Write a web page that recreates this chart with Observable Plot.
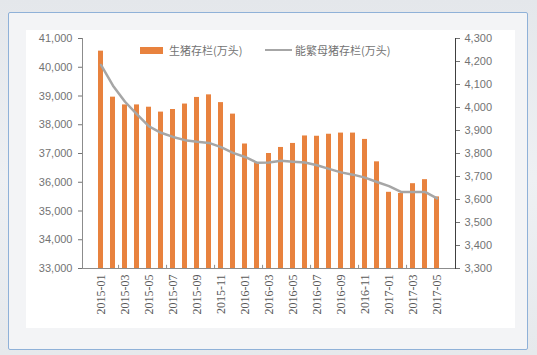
<!DOCTYPE html>
<html>
<head>
<meta charset="utf-8">
<script src="https://cdn.jsdelivr.net/npm/d3@7"></script>
<script src="https://cdn.jsdelivr.net/npm/@observablehq/plot@0.6"></script>
<style>
  html, body { margin: 0; padding: 0; }
  body { width: 537px; height: 355px; overflow: hidden; position: relative;
         background: linear-gradient(#e4e7eb, #eef0f3 50%, #e6e9ec); font-family: "Liberation Sans", sans-serif; }
  #frame { position: absolute; left: 8px; top: 12px; width: 518px; height: 336px;
           border: 1.5px solid #8fb1d8; background: #f3f4f6; border-radius: 2px; }
  #paper { position: absolute; left: 26px; top: 30px; width: 489px; height: 298px; background: #fff; }
  #chart { position: absolute; left: 0; top: 0; }
  .legend { position: absolute; top: 43px; font-family: "Noto Sans CJK SC", sans-serif; font-size: 11px;
            color: #737373; line-height: 14px; display: flex; align-items: center; white-space: nowrap; }
  .sw-bar { width: 23px; height: 7px; background: #E8823E; margin-right: 6px; }
  .sw-line { width: 27px; height: 2.5px; background: #A6A6A6; margin-right: 3px; }
</style>
</head>
<body>
<div id="frame"></div>
<div id="paper"></div>
<div id="chart"></div>
<div class="legend" style="left:140px"><span class="sw-bar"></span>生猪存栏(万头)</div>
<div class="legend" style="left:265px"><span class="sw-line"></span>能繁母猪存栏(万头)</div>
<script>
const months = [
  "2015-01","2015-02","2015-03","2015-04","2015-05","2015-06","2015-07","2015-08","2015-09","2015-10","2015-11","2015-12",
  "2016-01","2016-02","2016-03","2016-04","2016-05","2016-06","2016-07","2016-08","2016-09","2016-10","2016-11","2016-12",
  "2017-01","2017-02","2017-03","2017-04","2017-05"
];
const hogs = [40560, 38960, 38690, 38690, 38610, 38440, 38530, 38720, 38950, 39040, 38770, 38370,
              37330, 36680, 37000, 37210, 37350, 37610, 37600, 37670, 37710, 37710, 37490, 36710,
              35650, 35610, 35950, 36090, 35490];
const sows = [4185, 4095, 4025, 3970, 3918, 3890, 3872, 3858, 3851, 3846, 3828, 3803,
              3785, 3760, 3761, 3768, 3764, 3761, 3749, 3733, 3718, 3708, 3695, 3676,
              3658, 3633, 3633, 3633, 3605];
const leftTicks = [33000, 34000, 35000, 36000, 37000, 38000, 39000, 40000, 41000];
const rightTicks = [3300, 3400, 3500, 3600, 3700, 3800, 3900, 4000, 4100, 4200, 4300];
const xTickLabels = months.filter((d, i) => i % 2 === 0);
const xTickMarks = months.filter((d, i) => i % 4 === 2);

// map right-axis values onto the left scale's domain
const L0 = leftTicks[0], L1 = leftTicks[leftTicks.length - 1];
const R0 = rightTicks[0], R1 = rightTicks[rightTicks.length - 1];
const toLeft = v => L0 + (v - R0) * (L1 - L0) / (R1 - R0);
const fromLeft = v => R0 + (v - L0) * (R1 - R0) / (L1 - L0);

const data = months.map((m, i) => ({month: m, hogs: hogs[i], sows: sows[i]}));
const fmt = d3.format(",");
const W = 537, ML = 82, MR = 82;
const halfStep = (W - ML - MR) / months.length / 2;

const chart = Plot.plot({
  width: W,
  height: 355,
  marginLeft: ML,
  marginRight: MR,
  marginTop: 38,
  marginBottom: 87,
  style: {background: "transparent", overflow: "visible"},
  x: {type: "band", domain: months, paddingInner: 0.6, paddingOuter: 0.3, axis: null},
  y: {domain: [L0, L1], axis: null},
  marks: [
    Plot.barY(data, {x: "month", y1: L0, y2: "hogs", fill: "#E8823E"}),
    Plot.line(data, {x: "month", y: d => toLeft(d.sows), stroke: "#A6A6A6", strokeWidth: 2.5}),
    Plot.ruleY([L0], {stroke: "#8c8c8c"}),
    Plot.ruleX(xTickMarks, {x: d => d, y1: L0, y2: L0 + 110, dx: -halfStep, stroke: "#8c8c8c"}),
    Plot.frame({anchor: "left", stroke: "#8c8c8c"}),
    Plot.frame({anchor: "right", stroke: "#404040"}),
    Plot.axisY({anchor: "left", ticks: leftTicks, tickFormat: fmt, tickSize: 4, tickPadding: 6,
                fontSize: 11, fontFamily: "Liberation Sans", color: "#737373", label: null}),
    Plot.axisY({anchor: "right", ticks: rightTicks.map(toLeft), tickFormat: d => fmt(Math.round(fromLeft(d))),
                tickSize: 4, tickPadding: 5, fontSize: 11, fontFamily: "Liberation Sans", color: "#737373", label: null}),
    Plot.axisX({ticks: xTickLabels, tickRotate: -90, tickSize: 0, tickPadding: 6,
                fontSize: 12, fontFamily: "Liberation Serif", color: "#595959", label: null})
  ]
});
document.getElementById("chart").appendChild(chart);
</script>
</body>
</html>
